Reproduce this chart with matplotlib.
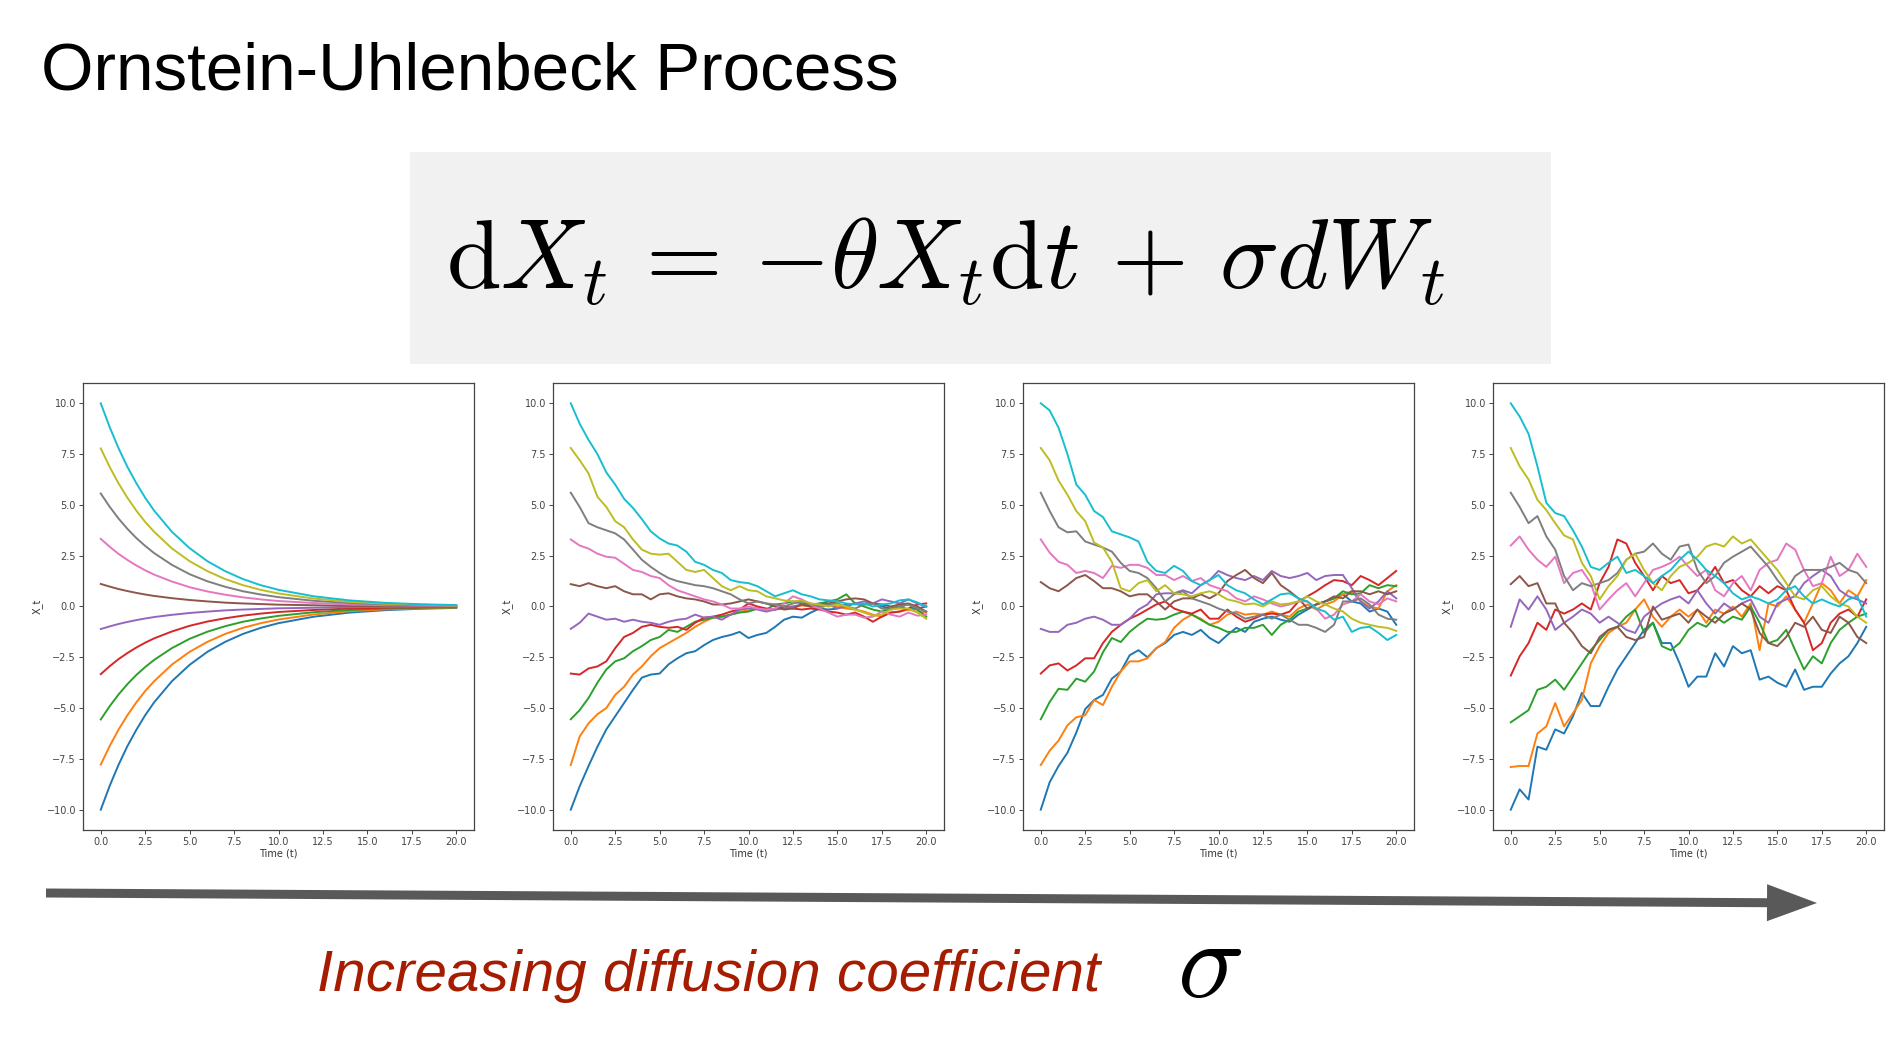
import numpy as np
import matplotlib
matplotlib.use("Agg")
import matplotlib.pyplot as plt
from matplotlib.patches import Rectangle, FancyArrow

plt.rcParams['mathtext.fontset'] = 'cm'

# ---- data ----
# panel 1 (sigma = 0): smooth decay, its own time grid
T1 = [0, 0.5, 1, 1.5, 2, 2.5, 3, 4, 5, 6, 7, 8, 9, 10, 12, 14, 16, 18, 20]
p1_blue = [-10, -8.83, -7.79, -6.87, -6.07, -5.35, -4.72, -3.68, -2.87, -2.23, -1.74, -1.35, -1.05, -0.82, -0.50, -0.30, -0.18, -0.11, -0.07]
p1_orange = [-7.78, -6.87, -6.06, -5.35, -4.72, -4.16, -3.68, -2.86, -2.23, -1.74, -1.35, -1.05, -0.82, -0.64, -0.39, -0.23, -0.14, -0.09, -0.05]
p1_green = [-5.56, -4.91, -4.33, -3.82, -3.37, -2.98, -2.63, -2.05, -1.59, -1.24, -0.97, -0.75, -0.59, -0.46, -0.28, -0.17, -0.10, -0.06, -0.04]
p1_red = [-3.33, -2.94, -2.59, -2.29, -2.02, -1.78, -1.57, -1.23, -0.95, -0.74, -0.58, -0.45, -0.35, -0.27, -0.17, -0.10, -0.06, -0.04, -0.02]
p1_purple = [-1.11, -0.98, -0.86, -0.76, -0.67, -0.59, -0.52, -0.41, -0.32, -0.25, -0.19, -0.15, -0.12, -0.09, -0.06, -0.03, -0.02, -0.01, -0.01]
p1_brown = [1.11, 0.98, 0.86, 0.76, 0.67, 0.59, 0.52, 0.41, 0.32, 0.25, 0.19, 0.15, 0.12, 0.09, 0.06, 0.03, 0.02, 0.01, 0.01]
p1_pink = [3.33, 2.94, 2.59, 2.29, 2.02, 1.78, 1.57, 1.23, 0.95, 0.74, 0.58, 0.45, 0.35, 0.27, 0.17, 0.10, 0.06, 0.04, 0.02]
p1_gray = [5.56, 4.91, 4.33, 3.82, 3.37, 2.98, 2.63, 2.05, 1.59, 1.24, 0.97, 0.75, 0.59, 0.46, 0.28, 0.17, 0.10, 0.06, 0.04]
p1_olive = [7.78, 6.87, 6.06, 5.35, 4.72, 4.16, 3.68, 2.86, 2.23, 1.74, 1.35, 1.05, 0.82, 0.64, 0.39, 0.23, 0.14, 0.09, 0.05]
p1_cyan = [10, 8.83, 7.79, 6.87, 6.07, 5.35, 4.72, 3.68, 2.87, 2.23, 1.74, 1.35, 1.05, 0.82, 0.50, 0.30, 0.18, 0.11, 0.07]

# panels 2-4: sampled every 0.5 time units
T = np.arange(0, 20.5, 0.5)

p2_blue = [-10, -8.85, -7.85, -6.9, -6.05, -5.4, -4.75, -4.1, -3.5, -3.35, -3.3, -2.85, -2.55, -2.3, -2.2, -1.9, -1.65, -1.5, -1.4, -1.25, -1.55,
           -1.4, -1.3, -1.0, -0.65, -0.5, -0.55, -0.3, -0.1, -0.15, -0.1, 0.1, 0.15, 0.1, 0.15, 0.0, -0.1, 0.0, -0.15, -0.1, 0.0]
p2_orange = [-7.8, -6.4, -5.75, -5.3, -5.0, -4.35, -3.95, -3.35, -2.95, -2.45, -2.05, -1.8, -1.55, -1.3, -1.0, -0.75, -0.55, -0.5, -0.4, -0.25, -0.2,
             -0.1, -0.15, -0.15, 0.0, 0.0, 0.05, 0.0, -0.1, 0.1, 0.0, -0.1, -0.15, -0.25, -0.4, -0.5, -0.3, -0.25, -0.15, -0.25, -0.3]
p2_green = [-5.55, -5.1, -4.5, -3.75, -3.1, -2.7, -2.55, -2.2, -1.95, -1.65, -1.5, -1.15, -1.25, -1.0, -0.75, -0.65, -0.55, -0.5, -0.4, -0.3, -0.25,
            -0.1, -0.15, 0.1, 0.15, 0.25, 0.15, 0.1, 0.15, 0.25, 0.35, 0.6, 0.15, 0.0, -0.15, -0.25, -0.1, 0.0, 0.1, -0.15, -0.5]
p2_red = [-3.3, -3.35, -3.05, -2.95, -2.7, -2.05, -1.5, -1.3, -1.0, -0.9, -1.0, -1.05, -1.0, -1.15, -0.8, -0.55, -0.5, -0.4, -0.25, -0.15, 0.15,
          0.0, -0.1, -0.15, 0.0, -0.1, -0.15, -0.1, -0.15, -0.25, -0.3, -0.4, -0.3, -0.5, -0.75, -0.5, -0.3, -0.25, -0.1, 0.1, 0.15]
p2_purple = [-1.1, -0.8, -0.35, -0.5, -0.65, -0.6, -0.75, -0.65, -0.75, -0.8, -0.9, -0.75, -0.65, -0.6, -0.4, -0.55, -0.5, -0.65, -0.4, -0.15, -0.1,
             -0.15, -0.25, -0.15, -0.1, 0.0, 0.1, 0.0, 0.15, 0.1, -0.1, 0.0, 0.15, 0.25, 0.15, 0.35, 0.25, 0.15, 0.35, 0.15, 0.0]
p2_brown = [1.1, 1.0, 1.15, 1.0, 0.9, 1.0, 0.75, 0.6, 0.6, 0.35, 0.6, 0.65, 0.5, 0.4, 0.35, 0.25, 0.1, 0.1, 0.15, 0.25, 0.35,
            0.25, 0.15, 0.0, -0.15, -0.1, 0.1, 0.0, 0.1, 0.15, 0.25, 0.35, 0.4, 0.35, 0.15, 0.1, 0.0, 0.1, 0.15, 0.0, -0.25]
p2_pink = [3.3, 3.0, 2.85, 2.6, 2.45, 2.4, 2.1, 1.8, 1.7, 1.5, 1.4, 1.05, 0.8, 0.65, 0.5, 0.35, 0.25, 0.1, -0.1, -0.1, 0.0,
           -0.1, -0.15, -0.1, 0.15, 0.5, 0.35, 0.1, -0.1, -0.3, -0.5, -0.4, -0.4, -0.55, -0.5, -0.25, -0.4, -0.5, -0.3, -0.45, -0.4]
p2_gray = [5.6, 4.9, 4.1, 3.9, 3.75, 3.6, 3.3, 2.8, 2.3, 1.95, 1.65, 1.4, 1.25, 1.15, 1.05, 1.0, 0.9, 0.75, 0.6, 0.35, 0.15,
           0.25, 0.15, 0.1, 0.0, 0.15, 0.25, 0.15, 0.0, 0.1, 0.15, 0.0, -0.1, 0.1, 0.15, -0.1, -0.15, 0.0, 0.1, -0.1, -0.25]
p2_olive = [7.8, 7.2, 6.55, 5.4, 4.9, 4.2, 3.9, 3.3, 2.8, 2.6, 2.55, 2.6, 2.2, 1.8, 1.7, 1.8, 1.4, 1.0, 0.8, 1.0, 0.8,
            0.75, 0.5, 0.4, 0.3, 0.25, 0.3, 0.15, 0.1, 0.0, 0.1, 0.0, -0.15, -0.3, -0.45, -0.4, -0.15, -0.1, -0.1, -0.3, -0.6]
p2_cyan = [10, 9.0, 8.2, 7.5, 6.6, 6.0, 5.3, 4.85, 4.3, 3.7, 3.35, 3.1, 3.0, 2.7, 2.2, 2.05, 1.8, 1.65, 1.3, 1.2, 1.15,
           1.0, 0.75, 0.5, 0.65, 0.8, 0.6, 0.5, 0.35, 0.3, 0.25, 0.15, 0.1, 0.15, 0.0, 0.1, 0.15, 0.3, 0.35, 0.2, 0.0]

p3_blue = [-10, -8.65, -7.85, -7.2, -6.2, -5.05, -4.6, -4.35, -3.55, -3.2, -2.4, -2.15, -2.5, -2.05, -1.8, -1.4, -1.25, -1.4, -1.15, -1.55, -1.8,
           -1.4, -1.05, -1.25, -0.75, -0.6, -0.5, -0.65, -0.75, -0.4, -0.15, 0.1, 0.25, 0.4, 0.6, 0.25, 0.15, -0.25, -0.1, -0.25, -0.9]
p3_orange = [-7.8, -7.1, -6.6, -5.85, -5.45, -5.35, -4.6, -4.85, -3.95, -3.2, -2.7, -2.7, -2.55, -2.05, -1.75, -1.05, -0.65, -0.4, -0.6, -0.9, -0.75,
             -0.4, -0.25, -0.4, -0.35, -0.4, -0.25, -0.4, -0.5, -0.1, 0.1, -0.15, 0.1, 0.25, 0.6, 0.75, 0.25, 0.0, -0.1, 0.75, 1.05]
p3_green = [-5.55, -4.7, -4.05, -4.1, -3.55, -3.7, -3.2, -2.25, -1.55, -1.75, -1.25, -0.9, -0.6, -0.65, -0.6, -0.4, -0.25, -0.4, -0.65, -0.9, -1.05,
            -1.25, -1.25, -1.05, -1.05, -0.9, -1.4, -0.9, -0.65, -0.25, -0.1, 0.1, 0.25, 0.4, 0.75, 0.6, 0.65, 1.05, 0.9, 1.05, 1.0]
p3_red = [-3.3, -2.9, -2.8, -3.15, -2.9, -2.55, -2.55, -1.8, -1.25, -0.9, -0.6, -0.4, -0.15, 0.1, 0.25, -0.1, -0.25, -0.35, -0.15, -0.6, -0.6,
          -0.15, -0.5, -0.75, -0.6, -0.4, -0.35, -0.4, -0.25, 0.25, 0.5, 0.75, 1.05, 1.3, 1.25, 1.05, 1.5, 1.3, 1.05, 1.4, 1.75]
p3_purple = [-1.1, -1.25, -1.25, -0.9, -0.8, -0.6, -0.5, -0.65, -0.9, -0.9, -0.6, -0.15, 0.1, 0.6, 0.65, 0.65, 0.8, 0.65, 1.05, 1.3, 1.75,
             1.55, 1.4, 1.3, 1.5, 1.3, 1.75, 1.5, 1.4, 1.5, 1.65, 1.3, 1.5, 1.55, 1.55, 0.9, 0.25, -0.1, 0.25, 0.75, 0.4]
p3_brown = [1.2, 0.9, 0.75, 1.05, 1.4, 1.55, 1.25, 0.9, 0.9, 0.75, 0.5, 0.6, 0.6, 0.25, -0.15, 0.25, 0.4, 0.4, 0.6, 0.4, 0.65,
            1.25, 1.55, 1.8, 1.4, 1.15, 1.65, 1.05, 0.75, 0.4, -0.1, 0.1, 0.25, 0.5, 0.4, 0.75, 0.75, 0.6, 0.75, 0.6, 0.75]
p3_pink = [3.3, 2.65, 2.2, 2.05, 1.65, 1.75, 1.65, 1.4, 2.0, 1.9, 2.05, 2.05, 1.9, 1.55, 1.55, 1.3, 1.5, 1.25, 1.4, 1.05, 0.9,
           0.75, 0.4, 0.25, 0.5, 0.35, 0.15, 0.0, 0.1, 0.25, 0.25, -0.1, -0.6, -0.4, 0.1, 0.25, 0.6, 0.25, 0.1, 0.4, 0.25]
p3_gray = [5.6, 4.7, 3.9, 3.65, 3.7, 3.2, 3.05, 2.9, 2.7, 2.15, 1.75, 1.65, 1.4, 0.9, 0.25, 0.6, 0.75, 0.4, 0.25, 0.1, -0.1,
           -0.25, -0.35, -0.6, -0.5, -0.4, -0.6, -0.4, -0.65, -0.9, -0.9, -1.05, -1.25, -0.9, 0.25, 0.25, 0.4, 0.1, -0.4, -0.6, -0.65]
p3_olive = [7.8, 7.2, 6.2, 5.5, 4.7, 4.2, 3.15, 2.9, 2.2, 0.9, 0.75, 1.15, 1.3, 0.75, 1.05, 0.65, 0.6, 0.5, 0.65, 0.75, 0.6,
            0.35, 0.25, 0.1, 0.15, 0.0, 0.25, 0.1, 0.15, 0.25, 0.5, 0.25, 0.1, -0.1, -0.25, -0.6, -0.8, -0.9, -1.0, -1.05, -1.2]
p3_cyan = [10, 9.65, 8.8, 7.5, 6.0, 5.5, 4.7, 4.4, 3.7, 3.55, 3.4, 3.2, 2.2, 1.75, 1.65, 2.0, 1.75, 1.25, 1.05, 1.3, 1.55,
           1.05, 0.8, 0.65, 0.35, 0.1, 0.35, 0.6, 0.65, 0.4, 0.25, -0.1, -0.25, -0.65, -0.5, -1.25, -1.05, -1.0, -1.3, -1.65, -1.4]

p4_blue = [-10, -9.0, -9.5, -6.9, -7.05, -6.05, -6.25, -5.4, -4.25, -4.9, -4.9, -3.95, -3.1, -2.45, -1.8, -1.15, -0.8, -1.8, -1.8, -2.8, -3.95,
           -3.45, -3.45, -2.3, -2.95, -1.95, -2.3, -2.15, -3.6, -3.45, -3.75, -3.95, -3.1, -4.1, -3.95, -3.95, -3.3, -2.8, -2.45, -1.8, -1.0]
p4_orange = [-7.9, -7.85, -7.85, -6.25, -5.9, -4.75, -5.9, -5.25, -4.6, -2.8, -1.95, -1.3, -1.0, -0.8, -0.15, 0.35, -0.5, -1.0, -0.5, -0.15, -0.5,
             -0.15, -0.8, -0.15, -0.35, 0.0, -0.5, 0.15, -2.15, 0.15, 0.0, 0.5, -0.15, -0.8, 0.15, 1.15, 0.8, 0.15, 0.8, 0.5, 1.3]
p4_green = [-5.7, -5.4, -5.1, -4.1, -3.95, -3.6, -4.1, -3.45, -2.8, -2.15, -1.65, -1.15, -1.0, -0.5, -0.15, -1.3, -0.8, -1.95, -2.15, -1.8, -1.15,
            -0.8, -1.0, -0.5, -0.8, -0.5, -0.65, 0.0, -0.8, -1.8, -1.65, -1.15, -2.15, -3.1, -2.45, -2.8, -1.8, -1.15, -0.8, -0.5, -0.35]
p4_red = [-3.4, -2.45, -1.8, -0.8, -1.15, -0.15, -0.35, -0.15, 0.15, -0.15, 1.15, 1.95, 3.3, 3.1, 2.15, 1.5, 0.8, 1.5, 1.15, 1.3, 0.65,
          0.8, 1.3, 1.95, 1.15, 1.3, 0.8, 0.5, 1.0, 0.65, 1.0, 0.8, -0.15, -0.8, -2.15, -1.8, -0.8, -0.35, -0.15, -0.5, 0.35]
p4_purple = [-1.0, 0.35, -0.15, 0.5, -0.15, -1.15, -0.8, -0.5, -0.15, -0.35, -0.8, -0.5, -0.8, -1.15, -1.3, -0.5, -0.15, 0.15, 0.35, 0.5, 0.15,
             0.8, 0.15, -0.35, 0.15, -0.15, 0.15, 0.35, -0.5, -0.8, 0.15, 0.35, 0.5, 1.15, 1.5, 1.8, 1.5, 0.8, 0.5, 0.35, 0.15]
p4_brown = [1.1, 1.5, 1.0, 1.15, 0.15, 0.15, -0.8, -1.3, -1.95, -2.3, -1.5, -1.15, -1.0, -1.5, -1.65, -1.5, 0.0, -0.65, -0.5, -0.35, -0.8,
            -0.15, -0.5, -0.8, -0.35, -0.15, 0.15, -0.15, -1.3, -1.8, -1.95, -1.5, -0.8, -1.0, -0.5, -1.15, -1.3, -0.5, -0.8, -1.5, -1.8]
p4_pink = [3.0, 3.45, 2.8, 2.3, 1.95, 2.45, 1.15, 1.65, 1.8, 1.15, -0.15, 0.35, 0.8, 1.15, 0.5, 1.15, 1.8, 1.95, 2.15, 2.45, 1.95,
           1.5, 1.8, 0.8, 0.5, 1.15, 1.5, 0.8, 1.8, 2.15, 2.3, 3.1, 2.8, 1.8, 1.0, 1.15, 2.45, 1.5, 1.8, 2.6, 1.95]
p4_gray = [5.6, 4.9, 4.1, 4.45, 3.45, 2.8, 1.5, 0.8, 1.15, 1.0, 1.15, 1.3, 1.65, 2.3, 2.6, 2.7, 3.1, 2.6, 2.3, 2.95, 3.05,
           1.8, 1.15, 1.5, 2.15, 2.45, 2.7, 2.95, 2.45, 1.95, 1.3, 0.8, 1.5, 1.8, 1.8, 1.8, 1.95, 2.15, 1.8, 1.65, 1.15]
p4_olive = [7.8, 6.9, 6.25, 5.25, 4.75, 4.1, 3.5, 3.3, 2.15, 1.5, 0.35, 1.0, 1.5, 2.3, 2.6, 1.8, 1.15, 0.8, 1.5, 1.95, 2.15,
            2.45, 2.95, 3.1, 2.95, 3.45, 3.1, 3.3, 2.8, 2.3, 1.8, 1.15, 0.5, 0.35, 0.8, 1.0, 0.5, 0.15, 0.0, -0.5, -0.8]
p4_cyan = [10, 9.35, 8.5, 6.9, 5.1, 4.6, 4.45, 3.75, 2.95, 1.95, 1.8, 2.15, 2.45, 1.65, 1.8, 1.5, 1.15, 1.5, 1.8, 2.3, 2.7,
           2.3, 1.8, 1.5, 1.15, 0.65, 0.35, 0.5, 0.35, 0.15, 0.35, 0.8, 1.0, 0.5, 0.15, 0.35, 0.15, 0.0, 0.35, 0.5, -0.5]

panels = [
    (T1, [p1_blue, p1_orange, p1_green, p1_red, p1_purple, p1_brown, p1_pink, p1_gray, p1_olive, p1_cyan]),
    (T, [p2_blue, p2_orange, p2_green, p2_red, p2_purple, p2_brown, p2_pink, p2_gray, p2_olive, p2_cyan]),
    (T, [p3_blue, p3_orange, p3_green, p3_red, p3_purple, p3_brown, p3_pink, p3_gray, p3_olive, p3_cyan]),
    (T, [p4_blue, p4_orange, p4_green, p4_red, p4_purple, p4_brown, p4_pink, p4_gray, p4_olive, p4_cyan]),
]

W, H = 1896, 1038
fig = plt.figure(figsize=(W / 100, H / 100), dpi=100)
fig.patch.set_facecolor('white')

# title
fig.text(41 / W, 1 - 90 / H, 'Ornstein-Uhlenbeck Process', fontsize=48.5,
         family='Liberation Sans', va='baseline', ha='left')

# equation box
fig.patches.append(Rectangle((410 / W, 1 - 364 / H), 1141 / W, 212 / H,
                             transform=fig.transFigure, facecolor='#f1f1f1',
                             edgecolor='none', zorder=0))
fig.text(946 / W, 1 - 289 / H,
         r'$\mathrm{d}X_t \,=\, {-\theta} X_t\mathrm{d}t \,+\, \sigma dW_t$',
         fontsize=71, ha='center', va='baseline')

# the four sample-path panels
lefts = [83, 553, 1023, 1493]
for left, (tt, lines) in zip(lefts, panels):
    ax = fig.add_axes([left / W, 1 - 830 / H, 391 / W, 447 / H])
    for y in lines:
        ax.plot(tt, y, lw=1.4)
    ax.set_xticks([0, 2.5, 5, 7.5, 10, 12.5, 15, 17.5, 20])
    ax.set_yticks([-10, -7.5, -5, -2.5, 0, 2.5, 5, 7.5, 10])
    ax.set_xlim(-1, 21)
    ax.set_ylim(-11, 11)
    ax.tick_params(labelsize=7, length=3, pad=2, colors='#444444', width=0.7)
    for s in ax.spines.values():
        s.set_color('#444444')
        s.set_linewidth(0.9)
    ax.set_xlabel('Time (t)', fontsize=7, color='#333333', labelpad=1)
    ax.set_ylabel('X_t', fontsize=7, color='#333333', labelpad=3)

# arrow + caption, drawn on an overlay in pixel units
ov = fig.add_axes([0, 0, 1, 1], zorder=-1)
ov.set_xlim(0, W)
ov.set_ylim(H, 0)
ov.axis('off')
ov.add_patch(FancyArrow(46, 893, 1771, 10, width=9, head_width=37, head_length=50,
                        length_includes_head=True, color='#595959', lw=0))

fig.text(317 / W, 1 - 991 / H, 'Increasing diffusion coefficient', fontsize=42,
         style='italic', family='Liberation Sans', color='#a61c00', va='baseline')
fig.text(1177 / W, 1 - 997 / H, r'$\sigma$', fontsize=80, va='baseline')

fig.savefig('out.png', dpi=100)
